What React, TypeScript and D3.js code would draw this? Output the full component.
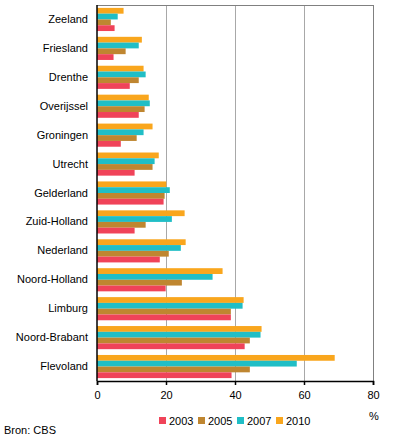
import React, { useEffect, useRef } from "react";
import * as d3 from "d3";

const provinces = [
  "Zeeland",
  "Friesland",
  "Drenthe",
  "Overijssel",
  "Groningen",
  "Utrecht",
  "Gelderland",
  "Zuid-Holland",
  "Nederland",
  "Noord-Holland",
  "Limburg",
  "Noord-Brabant",
  "Flevoland",
];
const years = ["2010", "2007", "2005", "2003"];
const legendYears = ["2003", "2005", "2007", "2010"];

const v2003 = [5.1, 4.8, 9.5, 12.1, 6.9, 10.9, 19.3, 10.9, 18.2, 19.9, 38.8, 42.8, 39.0];
const v2005 = [4.0, 8.3, 12.1, 13.8, 11.5, 16.1, 19.6, 14.1, 20.8, 24.6, 38.8, 44.3, 44.3];
const v2007 = [6.0, 12.1, 14.1, 15.3, 13.5, 16.7, 21.1, 21.7, 24.3, 33.5, 42.2, 47.4, 57.9];
const v2010 = [7.7, 13.0, 13.5, 15.0, 16.1, 17.9, 20.1, 25.4, 25.7, 36.4, 42.5, 47.7, 68.9];

const ticks = [0, 20, 40, 60, 80];

const colors: Record<string, string> = {
  "2003": "#f04359",
  "2005": "#bf8630",
  "2007": "#20bec6",
  "2010": "#f9a61d",
};

const seriesByYear: Record<string, number[]> = {
  "2003": v2003,
  "2005": v2005,
  "2007": v2007,
  "2010": v2010,
};

const W = 396;
const H = 440;
const margin = { top: 5, left: 97, right: 23, bottom: 59 };

export default function App() {
  const ref = useRef<SVGSVGElement>(null);

  useEffect(() => {
    const svg = d3.select(ref.current);
    svg.selectAll("*").remove();
    const font = "Arial, 'Liberation Sans', sans-serif";

    const x = d3
      .scaleLinear()
      .domain([0, 80])
      .range([margin.left, W - margin.right]);
    const y = d3
      .scaleBand()
      .domain(provinces)
      .range([margin.top, H - margin.bottom])
      .paddingInner(0.2)
      .paddingOuter(0.1);
    const inner = d3
      .scaleBand()
      .domain(years)
      .range([0, y.bandwidth()]);

    // grid
    svg
      .append("g")
      .selectAll("line")
      .data(ticks.slice(1))
      .join("line")
      .attr("x1", (d) => x(d) + 0.5)
      .attr("x2", (d) => x(d) + 0.5)
      .attr("y1", margin.top)
      .attr("y2", H - margin.bottom)
      .attr("stroke", (d) => (d === 80 ? "#808080" : "#a8a8a8"))
      .attr("stroke-width", 1);

    svg
      .append("line")
      .attr("x1", x(0))
      .attr("x2", x(80) + 1)
      .attr("y1", margin.top + 0.5)
      .attr("y2", margin.top + 0.5)
      .attr("stroke", "#808080");

    // bars
    const groups = svg
      .append("g")
      .selectAll("g")
      .data(provinces)
      .join("g")
      .attr("transform", (d) => `translate(0,${y(d)})`);

    groups
      .selectAll("rect")
      .data((p, i) => years.map((yr) => ({ yr, v: seriesByYear[yr][i] })))
      .join("rect")
      .attr("x", x(0))
      .attr("y", (d) => inner(d.yr)!)
      .attr("width", (d) => x(d.v) - x(0))
      .attr("height", inner.bandwidth())
      .attr("fill", (d) => colors[d.yr]);

    // axes
    const xAxis = d3
      .axisBottom(x)
      .tickValues(ticks)
      .tickSize(4)
      .tickPadding(6)
      .tickFormat(d3.format("d"));
    const gx = svg
      .append("g")
      .attr("transform", `translate(0,${H - margin.bottom})`)
      .call(xAxis);
    gx.select(".domain").attr("stroke", "#000").attr("stroke-width", 1.5);
    gx.selectAll(".tick line").attr("stroke", "#000").attr("stroke-width", 1.5);
    gx.selectAll("text")
      .attr("font-family", font)
      .attr("font-size", 11)
      .attr("fill", "#000");

    const yAxis = d3.axisLeft(y).tickSize(0).tickPadding(9);
    const gy = svg
      .append("g")
      .attr("transform", `translate(${x(0)},0)`)
      .call(yAxis);
    gy.select(".domain").remove();
    gy.selectAll("text")
      .attr("font-family", font)
      .attr("font-size", 11)
      .attr("fill", "#000");
    svg
      .append("line")
      .attr("x1", x(0))
      .attr("x2", x(0))
      .attr("y1", margin.top)
      .attr("y2", H - margin.bottom)
      .attr("stroke", "#000")
      .attr("stroke-width", 1.5);

    // unit
    svg
      .append("text")
      .attr("x", x(80) + 1)
      .attr("y", 420)
      .attr("text-anchor", "middle")
      .attr("font-family", font)
      .attr("font-size", 11)
      .text("%");

    // legend
    const legend = svg
      .append("g")
      .selectAll("g")
      .data(legendYears)
      .join("g")
      .attr("transform", (d, i) => `translate(${159 + i * 39},417)`);
    legend
      .append("rect")
      .attr("width", 7)
      .attr("height", 7)
      .attr("fill", (d) => colors[d]);
    legend
      .append("text")
      .attr("x", 10)
      .attr("y", 7.5)
      .attr("font-family", font)
      .attr("font-size", 11)
      .text((d) => d);

    svg
      .append("text")
      .attr("x", 4)
      .attr("y", 434)
      .attr("font-family", font)
      .attr("font-size", 11)
      .text("Bron: CBS");
  }, []);

  return (
    <svg
      ref={ref}
      width={W}
      height={H}
      style={{ position: "absolute", left: 0, top: 0, background: "#fff" }}
    />
  );
}
